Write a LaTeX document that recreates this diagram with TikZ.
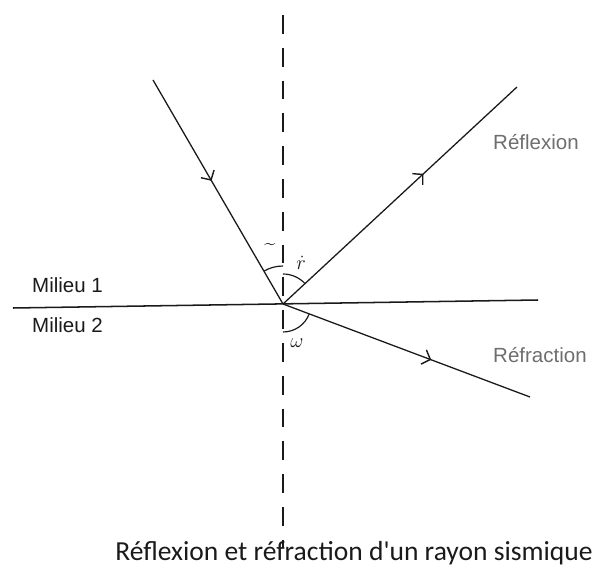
\documentclass[tikz,border=0pt]{standalone}
\usepackage{fontspec}
\setsansfont{Liberation Sans}
\newfontfamily\captionfont{Carlito}
\usetikzlibrary{arrows.meta, decorations.markings}
\definecolor{ink}{HTML}{1A1A1A}
\definecolor{labelgray}{HTML}{6E6E6E}
\tikzset{
  ray/.style={ink, line width=1.1pt},
  raymark/.style={postaction={decorate, decoration={markings,
    mark=at position #1 with {\arrow{Straight Barb[length=6pt, width=13pt, line width=1.2pt]}}}}},
  medium/.style={font=\sffamily\fontsize{17.5}{20}\selectfont, ink, anchor=west, inner sep=0pt},
  hand/.style={font=\fontsize{17}{19}\selectfont, ink, inner sep=0pt}
}

\begin{document}
\begin{tikzpicture}[x=0.03cm, y=0.03cm]
        \useasboundingbox (0,-569) rectangle (593,0);
        \coordinate (O) at (283,-304);
        \coordinate (inc) at (153,-80);
        \coordinate (refl) at (517,-87);
        \coordinate (refr) at (530,-397);
        \coordinate (left) at (13,-308);
        \coordinate (right) at (538,-300);
        \coordinate (top) at (283,-15);
        \coordinate (bottom) at (283,-548);
        \draw[ink, line width=1pt, dash pattern=on 16pt off 12pt] (top) -- (bottom);
        \draw[ink, line width=1.3pt] (left) -- (right);
        \draw[ray, raymark=0.45] (inc) -- (O);
        \draw[ray, raymark=0.6] (O) -- (refl);
        \draw[ray, raymark=0.6] (O) -- (refr);
        \draw[ink, line width=1pt] ([shift={(90:38)}]O) arc[start angle=90, end angle=120, radius=38];
        \draw[ink, line width=1pt] ([shift={(43:30)}]O) arc[start angle=43, end angle=90, radius=30];
        \draw[ink, line width=1pt] ([shift={(-90:28)}]O) arc[start angle=-90, end angle=-21, radius=28];
        \node[hand] (angi) at (270,-246) {\textasciitilde};
        \node[hand] (angr) at (301,-263) {$\dot{r}$};
        \node[hand] (angw) at (297,-343) {$\omega$};
        \node[medium] (m1) at (32,-285) {Milieu 1};
        \node[medium] (m2) at (32,-325) {Milieu 2};
        \node[medium, labelgray] (reflab) at (493,-142) {Réflexion};
        \node[medium, labelgray] (refrlab) at (493,-355) {Réfraction};
        \node[ink, font=\captionfont\fontsize{23.5}{27}\selectfont] (caption) at (354,-553) {Réflexion et réfraction d'un rayon sismique};
      \end{tikzpicture}
\end{document}
